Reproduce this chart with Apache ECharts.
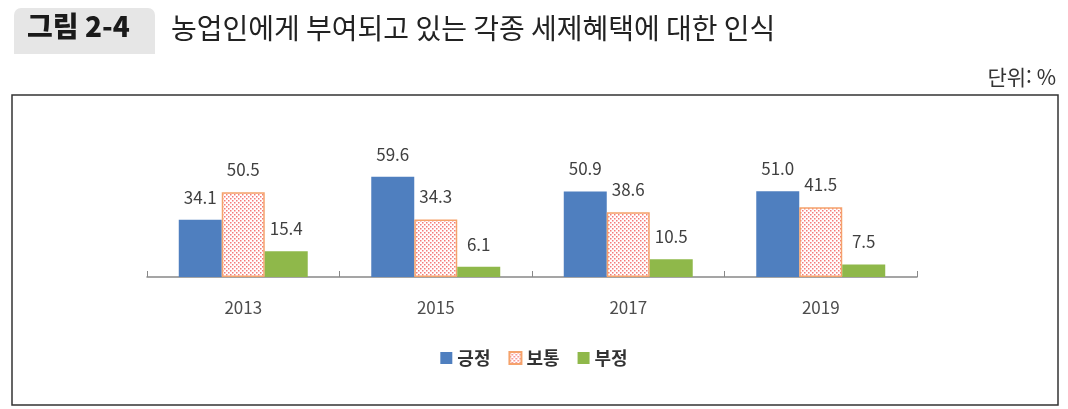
<!DOCTYPE html>
<html lang="ko">
<head>
    <meta charset="UTF-8">
    <style>
        html, body { margin: 0; padding: 0; background: #fff; }
        #main { width: 1068px; height: 409px; }
    </style>
    <title>그림 2-4</title>
</head>
<body>
    <div id="main"></div>
    <script src="https://cdn.jsdelivr.net/npm/echarts@6/dist/echarts.min.js"></script>
    <script>
        var years = ['2013', '2015', '2017', '2019'];
        var positive = [34.1, 59.6, 50.9, 51.0];
        var neutral = [50.5, 34.3, 38.6, 41.5];
        var negative = [15.4, 6.1, 10.5, 7.5];
        var seriesNames = ['긍정', '보통', '부정'];

        var FONT = '"Noto Sans CJK KR", "Noto Sans", sans-serif';

        // 보통: 흰 바탕에 빨간 점 무늬
        function dotPattern() {
            var c = document.createElement('canvas');
            c.width = 4;
            c.height = 4;
            var ctx = c.getContext('2d');
            ctx.fillStyle = '#ffffff';
            ctx.fillRect(0, 0, 4, 4);
            ctx.fillStyle = '#f47a7a';
            ctx.fillRect(0, 0, 1.5, 1.5);
            ctx.fillRect(2, 2, 1.5, 1.5);
            return c;
        }
        var pattern = { image: dotPattern(), repeat: 'repeat' };

        var myChart = echarts.init(document.getElementById('main'));

        var labelStyle = {
            show: true,
            position: 'top',
            distance: 14,
            fontFamily: FONT,
            fontSize: 17,
            color: '#404040',
            formatter: function (p) { return p.value.toFixed(1); }
        };

        var option = {
            animation: false,
            textStyle: { fontFamily: FONT },
            title: {
                text: '농업인에게 부여되고 있는 각종 세제혜택에 대한 인식',
                left: 166,
                top: 9,
                textStyle: { fontFamily: FONT, fontSize: 28, fontWeight: 'normal', color: '#222' }
            },
            graphic: [
                {
                    type: 'rect', z: -1,
                    shape: { x: 14, y: 8, width: 141, height: 46, r: [7, 7, 0, 0] },
                    style: { fill: '#e6e6e6' }
                },
                {
                    type: 'text',
                    left: 27, top: 12,
                    style: { text: '그림 2-4', font: '900 28px ' + FONT, fill: '#1a1a1a' }
                },
                {
                    type: 'text',
                    right: 12, top: 67,
                    style: { text: '단위: %', font: '21px ' + FONT, fill: '#333' }
                },
                {
                    type: 'rect', z: -1,
                    shape: { x: 12, y: 95, width: 1046, height: 310 },
                    style: { fill: 'none', stroke: '#333', lineWidth: 1.5 }
                }
            ],
            legend: {
                data: [
                    { name: '긍정', icon: 'rect' },
                    { name: '보통', icon: 'rect' },
                    { name: '부정', icon: 'rect' }
                ],
                top: 344,
                left: 'center',
                itemWidth: 12,
                itemHeight: 12,
                itemGap: 18,
                textStyle: { fontFamily: FONT, fontSize: 18, fontWeight: 'bold', color: '#333' }
            },
            grid: { left: 147, right: 151, top: 109, bottom: 132 },
            xAxis: {
                type: 'category',
                data: years,
                axisLine: { lineStyle: { color: '#888', width: 1.5 } },
                axisTick: { show: true, inside: true, length: 6, lineStyle: { color: '#888' } },
                axisLabel: { fontFamily: FONT, fontSize: 17, color: '#4d4d4d', margin: 22 }
            },
            yAxis: {
                type: 'value',
                min: 0,
                max: 100,
                show: false,
                splitLine: { show: false }
            },
            series: [
                {
                    name: seriesNames[0],
                    type: 'bar',
                    data: positive,
                    barGap: '0%',
                    barCategoryGap: '33%',
                    itemStyle: { color: '#4f7fbf' },
                    label: labelStyle
                },
                {
                    name: seriesNames[1],
                    type: 'bar',
                    data: neutral,
                    itemStyle: { color: pattern, borderColor: '#f5a26b', borderWidth: 1.5 },
                    label: labelStyle
                },
                {
                    name: seriesNames[2],
                    type: 'bar',
                    data: negative,
                    itemStyle: { color: '#8fb84a' },
                    label: labelStyle
                }
            ]
        };

        myChart.setOption(option);
    </script>
</body>
</html>
